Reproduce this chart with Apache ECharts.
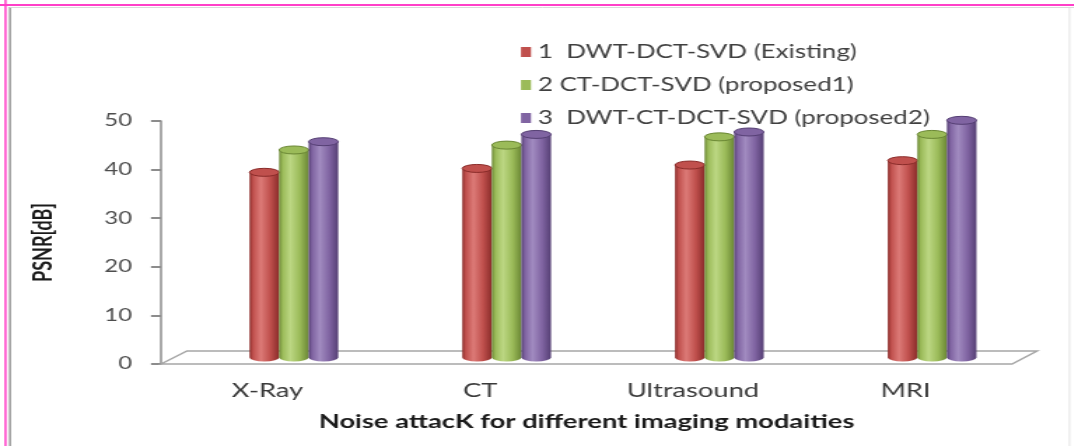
<!DOCTYPE html>
<html>
<head>
<meta charset="utf-8">
<script src="https://cdn.jsdelivr.net/npm/echarts@6/dist/echarts.min.js"></script>
<style>
  html, body { margin: 0; padding: 0; background: #ffffff; }
  #wrap { width: 1074px; height: 446px; overflow: hidden; }
  /* the figure is laid out narrow and widened horizontally as a whole */
  #chart { height: 446px; transform-origin: 0 0; }
</style>
</head>
<body>
<div id="wrap"><div id="chart"></div></div>
<script>
// Imaging modalities on the category axis
const categories = ['X-Ray', 'CT', 'Ultrasound', 'MRI'];

// PSNR in dB for each watermarking scheme
const seriesNames = [
  '1  DWT-DCT-SVD (Existing)',
  '2 CT-DCT-SVD (proposed1)',
  '3  DWT-CT-DCT-SVD (proposed2)'
];
const dwtDctSvd = [38.1, 38.9, 39.6, 40.5];
const ctDctSvd = [42.7, 43.7, 45.4, 45.9];
const dwtCtDctSvd = [44.4, 45.9, 46.4, 48.8];

// Value-axis ticks
const yTicks = [0, 10, 20, 30, 40, 50];

// Base colour, shadow edge and highlight for each cylinder series
const palette = [
  { base: '#C0504D', dark: '#8A2C2A', light: '#DC7A77' },
  { base: '#9BBB59', dark: '#6A8734', light: '#BCD783' },
  { base: '#8064A2', dark: '#553F74', light: '#A18BC0' }
];

// Horizontal widening of the whole figure
const SX = 1.4;
const W = 1074, H = 446;
const IW = Math.ceil(W / SX);
const ix = function (x) { return x / SX; };

const el = document.getElementById('chart');
el.style.width = IW + 'px';
el.style.transform = 'scaleX(' + SX + ')';

// Plot area (horizontal values in displayed pixels)
const GRID = { left: ix(161), right: IW - ix(1012), top: 121, bottom: 82 };
// Perspective offset of the bar row behind the front edge of the floor
const DEPTH_DX = ix(26.5), DEPTH_DY = -6.5;
const BAR_RATIO = 0.139;

const chart = echarts.init(el, null, { renderer: 'canvas' });

function cylinderRenderer(idx) {
  return function (params, api) {
    const cat = api.value(0);
    const val = api.value(1);
    const base = api.coord([cat, 0]);
    const top = api.coord([cat, val]);
    const band = api.size([1, 0])[0];
    const w = band * BAR_RATIO;
    const cx = base[0] + DEPTH_DX + (idx - 1) * w;
    const x0 = cx - w / 2, x1 = cx + w / 2;
    const yb = base[1] + DEPTH_DY;
    const yt = top[1] + DEPTH_DY;
    const rx = w / 2, ry = 4;
    const c = palette[idx];
    const bodyFill = new echarts.graphic.LinearGradient(0, 0, 1, 0, [
      { offset: 0, color: c.dark },
      { offset: 0.12, color: c.base },
      { offset: 0.38, color: c.light },
      { offset: 0.7, color: c.base },
      { offset: 1, color: c.dark }
    ]);
    const body = 'M' + x0 + ' ' + yt +
      ' L' + x0 + ' ' + yb +
      ' A' + rx + ' ' + ry + ' 0 0 0 ' + x1 + ' ' + yb +
      ' L' + x1 + ' ' + yt + ' Z';
    const cap = 'M' + x0 + ' ' + yt +
      ' A' + rx + ' ' + ry + ' 0 0 1 ' + x1 + ' ' + yt +
      ' A' + rx + ' ' + ry + ' 0 0 1 ' + x0 + ' ' + yt + ' Z';
    return {
      type: 'group',
      children: [
        { type: 'path', shape: { pathData: body }, style: { fill: bodyFill, stroke: null } },
        {
          type: 'path', shape: { pathData: cap },
          style: { fill: c.base, stroke: c.dark, lineWidth: 1 }
        }
      ]
    };
  };
}

const valueSets = [dwtDctSvd, ctDctSvd, dwtCtDctSvd];
const series = valueSets.map(function (vals, idx) {
  return {
    name: seriesNames[idx],
    type: 'custom',
    renderItem: cylinderRenderer(idx),
    encode: { x: 0, y: 1 },
    itemStyle: { color: palette[idx].base },
    z: 5,
    data: vals.map(function (v, i) { return [i, v]; })
  };
});

// Floor of the 3-D plot, front edge on the category axis
const fx0 = GRID.left, fx1 = IW - GRID.right, fy = H - GRID.bottom;
const floor = [
  [fx0, fy], [fx0 + ix(26), fy - 13], [fx1 + ix(25), fy - 13], [fx1, fy]
];

chart.setOption({
  animation: false,
  backgroundColor: '#ffffff',
  color: palette.map(function (p) { return p.base; }),
  grid: GRID,
  legend: {
    orient: 'vertical',
    left: ix(521) - 5,
    top: 37,
    icon: 'rect',
    itemWidth: ix(10),
    itemHeight: 10,
    itemGap: 13,
    selectedMode: false,
    textStyle: {
      fontFamily: 'Lato',
      fontSize: 18.5,
      color: '#404040',
      lineHeight: 20
    },
    data: seriesNames
  },
  xAxis: {
    type: 'category',
    data: categories,
    name: 'Noise attacK for different imaging modaities',
    nameLocation: 'middle',
    nameGap: 48,
    nameTextStyle: {
      fontFamily: 'Lato',
      fontSize: 19.5,
      fontWeight: 'bold',
      color: '#1a1a1a'
    },
    axisLine: { show: false },
    axisTick: { show: false },
    axisLabel: {
      margin: 17,
      fontFamily: 'Lato',
      fontSize: 19.5,
      color: '#3a3a3a'
    },
    splitLine: { show: false }
  },
  yAxis: {
    type: 'value',
    min: yTicks[0],
    max: yTicks[yTicks.length - 1],
    interval: yTicks[1] - yTicks[0],
    name: 'PSNR[dB]',
    nameLocation: 'middle',
    nameRotate: 90,
    nameGap: 75,
    nameTextStyle: {
      fontFamily: 'Lato',
      fontSize: 18,
      fontWeight: 'bold',
      color: '#1a1a1a'
    },
    axisLine: { show: true, lineStyle: { color: '#8c8c8c', width: 1.5 } },
    axisTick: { show: true, inside: false, length: ix(10), lineStyle: { color: '#8c8c8c', width: 2 } },
    axisLabel: {
      margin: ix(29),
      fontFamily: 'Lato',
      fontSize: 17,
      color: '#4d4d4d'
    },
    splitLine: { show: false }
  },
  graphic: [
    // outer frame
    { type: 'line', shape: { x1: ix(5.5), y1: 0, x2: ix(5.5), y2: H }, style: { stroke: '#ff3fc8', lineWidth: 1.5 }, z: 0 },
    { type: 'line', shape: { x1: 0, y1: 5, x2: IW, y2: 5 }, style: { stroke: '#ff3fc8', lineWidth: 2 }, z: 0 },
    { type: 'line', shape: { x1: ix(10), y1: 7, x2: ix(10), y2: H }, style: { stroke: '#9a9a9a', lineWidth: 1.5 }, z: 0 },
    { type: 'line', shape: { x1: ix(10), y1: 7.5, x2: IW, y2: 7.5 }, style: { stroke: '#d9d9d9', lineWidth: 1 }, z: 0 },
    { type: 'line', shape: { x1: ix(1069.5), y1: 8, x2: ix(1069.5), y2: H }, style: { stroke: '#e4e4e4', lineWidth: 1 }, z: 0 },
    // floor
    {
      type: 'polygon',
      shape: { points: floor },
      style: { fill: '#ffffff', stroke: '#a6a6a6', lineWidth: 1.5 },
      z: 1
    }
  ],
  series: series
});
</script>
</body>
</html>
